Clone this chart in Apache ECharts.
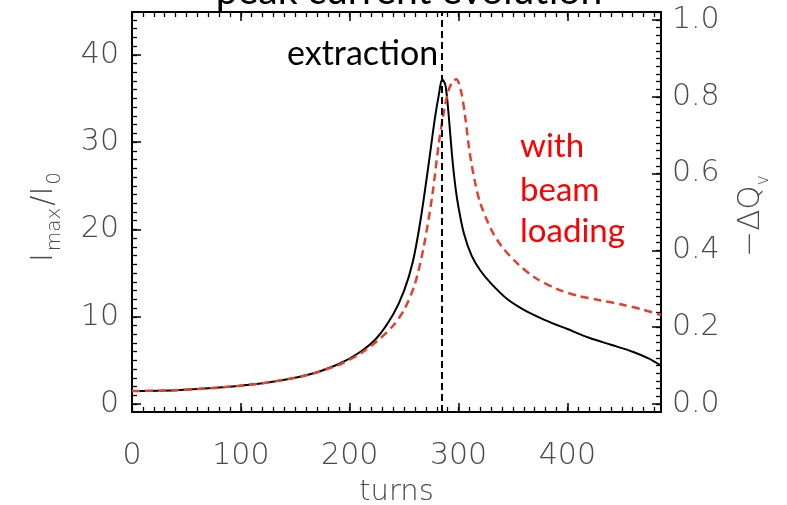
<!DOCTYPE html>
<html>
<head>
<meta charset="utf-8">
<script src="https://cdn.jsdelivr.net/npm/echarts@6/dist/echarts.min.js"></script>
<style>
  html, body { margin: 0; padding: 0; background: #fff; }
  #chart { width: 787px; height: 505px; }
</style>
</head>
<body>
<div id="chart"></div>
<script>
// Peak current growth over turns, without and with beam loading
const turnsNoLoad = [0, 40, 80, 120, 160, 190, 210, 225, 240, 250, 258, 265, 272, 278, 282, 285, 288, 291, 294, 297, 300, 305, 312, 320, 330, 345, 360, 380, 400, 420, 440, 460, 475, 486];
const ratioNoLoad = [1.5, 1.6, 1.9, 2.4, 3.3, 4.6, 6.0, 7.6, 10.3, 13.0, 16.3, 21.0, 27.0, 32.5, 35.5, 37.2, 36.5, 33.0, 28.5, 25.0, 22.5, 19.5, 17.0, 15.3, 13.8, 12.0, 10.8, 9.6, 8.6, 7.6, 6.8, 6.0, 5.2, 4.4];

const turnsLoad = [0, 40, 80, 120, 160, 190, 210, 225, 240, 250, 260, 268, 276, 282, 287, 291, 295, 298, 302, 306, 310, 315, 320, 330, 340, 355, 370, 390, 410, 430, 450, 470, 486];
const ratioLoad = [1.5, 1.6, 1.9, 2.4, 3.3, 4.5, 5.8, 7.2, 9.0, 10.8, 13.8, 18.0, 24.0, 30.0, 33.8, 36.0, 37.0, 37.2, 36.0, 33.0, 29.0, 25.5, 23.0, 20.0, 18.0, 16.0, 14.5, 13.2, 12.4, 11.9, 11.4, 10.8, 10.2];

const extractionTurn = 285;

// Axis ranges and tick labels
const turnsRange = [0, 486];
const ratioRange = [-0.9, 44.9];
const tuneRange = [-0.021, 1.021];
const turnsTicks = [0, 100, 200, 300, 400];
const ratioTicks = [0, 10, 20, 30, 40];
const tuneTicks = [0, 0.2, 0.4, 0.6, 0.8, 1.0];

// minor tick positions
const steps = (from, to, step) => {
  const out = [];
  for (let v = from; v <= to + 1e-9; v += step) out.push(Math.round(v * 1000) / 1000);
  return out;
};
const turnsMinor = steps(0, 480, 10);
const ratioMinor = steps(0, 44, 1);
const tuneMinor = steps(0, 1.02, 0.02);

const zip = (xs, ys) => xs.map((x, i) => [x, ys[i]]);

const FRAME = '#000';
const LABEL = '#4a4a4a';
const AXIS_FONT = '"DejaVu Sans", sans-serif';
const NOTE_FONT = 'Lato, "Open Sans", sans-serif';

const grid = { left: 132, right: 126, top: 12, bottom: 93, containLabel: false, outerBoundsMode: 'none' };

function frameAxis(extra) {
  return Object.assign({
    type: 'value',
    splitLine: { show: false },
    axisLine: { show: true, onZero: false, lineStyle: { color: FRAME, width: 2 } },
    axisTick: { show: true, inside: true, length: 9, lineStyle: { color: FRAME, width: 1.5 } },
    axisLabel: { show: false },
  }, extra);
}
function minorAxis(extra, values) {
  return Object.assign({
    type: 'value',
    splitLine: { show: false },
    axisLine: { show: false, onZero: false },
    axisTick: { show: true, inside: true, length: 5, lineStyle: { color: FRAME, width: 1.3 }, customValues: values },
    axisLabel: { show: false },
  }, extra);
}
const labelStyle = { color: LABEL, fontFamily: AXIS_FONT, fontSize: 30, fontWeight: 200 };

const chart = echarts.init(document.getElementById('chart'), null, { renderer: 'canvas' });

chart.setOption({
  animation: false,
  backgroundColor: '#fff',
  grid: [grid, Object.assign({}, grid)],
  xAxis: [
    frameAxis({
      gridIndex: 0, position: 'bottom', min: turnsRange[0], max: turnsRange[1],
      axisTick: { show: true, inside: true, length: 9, lineStyle: { color: FRAME, width: 1.5 }, customValues: turnsTicks },
      axisLabel: Object.assign({ show: true, margin: 29, customValues: turnsTicks }, labelStyle),
      name: 'turns', nameLocation: 'middle', nameGap: 66,
      nameTextStyle: { color: LABEL, fontFamily: AXIS_FONT, fontSize: 29, fontWeight: 200 }
    }),
    frameAxis({
      gridIndex: 0, position: 'top', min: turnsRange[0], max: turnsRange[1],
      axisTick: { show: true, inside: true, length: 9, lineStyle: { color: FRAME, width: 1.5 }, customValues: turnsTicks }
    }),
    minorAxis({ gridIndex: 1, position: 'bottom', min: turnsRange[0], max: turnsRange[1] }, turnsMinor),
    minorAxis({ gridIndex: 1, position: 'top', min: turnsRange[0], max: turnsRange[1] }, turnsMinor)
  ],
  yAxis: [
    frameAxis({
      gridIndex: 0, position: 'left', min: ratioRange[0], max: ratioRange[1],
      axisTick: { show: true, inside: true, length: 9, lineStyle: { color: FRAME, width: 1.5 }, customValues: ratioTicks },
      axisLabel: Object.assign({ show: true, margin: 13, padding: [10, 0, 0, 0], customValues: ratioTicks }, labelStyle)
    }),
    frameAxis({
      gridIndex: 0, position: 'right', min: tuneRange[0], max: tuneRange[1],
      axisTick: { show: true, inside: true, length: 9, lineStyle: { color: FRAME, width: 1.5 }, customValues: tuneTicks },
      axisLabel: Object.assign({ show: true, margin: 11, padding: [10, 0, 0, 0], customValues: tuneTicks, formatter: v => v.toFixed(1) }, labelStyle)
    }),
    minorAxis({ gridIndex: 1, position: 'left', min: ratioRange[0], max: ratioRange[1] }, ratioMinor),
    minorAxis({ gridIndex: 1, position: 'right', min: tuneRange[0], max: tuneRange[1] }, tuneMinor)
  ],
  series: [
    {
      name: 'no beam loading',
      type: 'line', xAxisIndex: 0, yAxisIndex: 0,
      data: zip(turnsNoLoad, ratioNoLoad),
      symbol: 'none', smooth: 0.3, z: 3,
      lineStyle: { color: '#000', width: 2 },
      markLine: {
        silent: true, symbol: ['none', 'none'],
        label: { show: false },
        lineStyle: { color: '#000', type: [7, 4], width: 2 },
        data: [{ xAxis: extractionTurn }]
      }
    },
    {
      name: 'with beam loading',
      type: 'line', xAxisIndex: 0, yAxisIndex: 0,
      data: zip(turnsLoad, ratioLoad),
      symbol: 'none', smooth: 0.3, z: 4,
      lineStyle: { color: '#e3412f', width: 2.5, type: [8, 5] }
    }
  ],
  graphic: [
    {
      type: 'text', x: 409, y: -8.5, z: 0,
      style: { text: 'peak current evolution', fontFamily: NOTE_FONT, fontSize: 39, fill: '#000', align: 'center', verticalAlign: 'middle' }
    },
    {
      type: 'text', x: 287, y: 54, z: 10,
      style: { text: 'extraction', fontFamily: NOTE_FONT, fontSize: 34, fill: '#000', align: 'left', verticalAlign: 'middle' }
    },
    {
      type: 'text', x: 520, y: 146, z: 10,
      style: { text: 'with', fontFamily: NOTE_FONT, fontSize: 33, fill: '#ff0000', align: 'left', verticalAlign: 'middle' }
    },
    {
      type: 'text', x: 520, y: 190, z: 10,
      style: { text: 'beam', fontFamily: NOTE_FONT, fontSize: 33, fill: '#ff0000', align: 'left', verticalAlign: 'middle' }
    },
    {
      type: 'text', x: 520, y: 231, z: 10,
      style: { text: 'loading', fontFamily: NOTE_FONT, fontSize: 33, fill: '#ff0000', align: 'left', verticalAlign: 'middle' }
    },
    {
      type: 'text', x: 44, y: 218, rotation: Math.PI / 2, z: 10,
      style: {
        text: '{m|I}{s|max}{m|/I}{s|0}',
        fill: LABEL, align: 'center', verticalAlign: 'middle',
        rich: {
          m: { fontFamily: AXIS_FONT, fontSize: 30, fontWeight: 200, fill: LABEL, lineHeight: 42, verticalAlign: 'middle', padding: [0, 2, 0, 2] },
          s: { fontFamily: AXIS_FONT, fontSize: 20, fontWeight: 200, fill: LABEL, lineHeight: 20, verticalAlign: 'bottom' }
        }
      }
    },
    {
      type: 'text', x: 751, y: 216, rotation: Math.PI / 2, z: 10,
      style: {
        text: '{m|\u2212\u0394Q}{s|v}',
        fill: LABEL, align: 'center', verticalAlign: 'middle',
        rich: {
          m: { fontFamily: AXIS_FONT, fontSize: 31, fontWeight: 200, fill: LABEL, lineHeight: 42, verticalAlign: 'middle' },
          s: { fontFamily: AXIS_FONT, fontSize: 17, fontWeight: 200, fill: LABEL, lineHeight: 17, verticalAlign: 'bottom' }
        }
      }
    }
  ]
});
</script>
</body>
</html>
